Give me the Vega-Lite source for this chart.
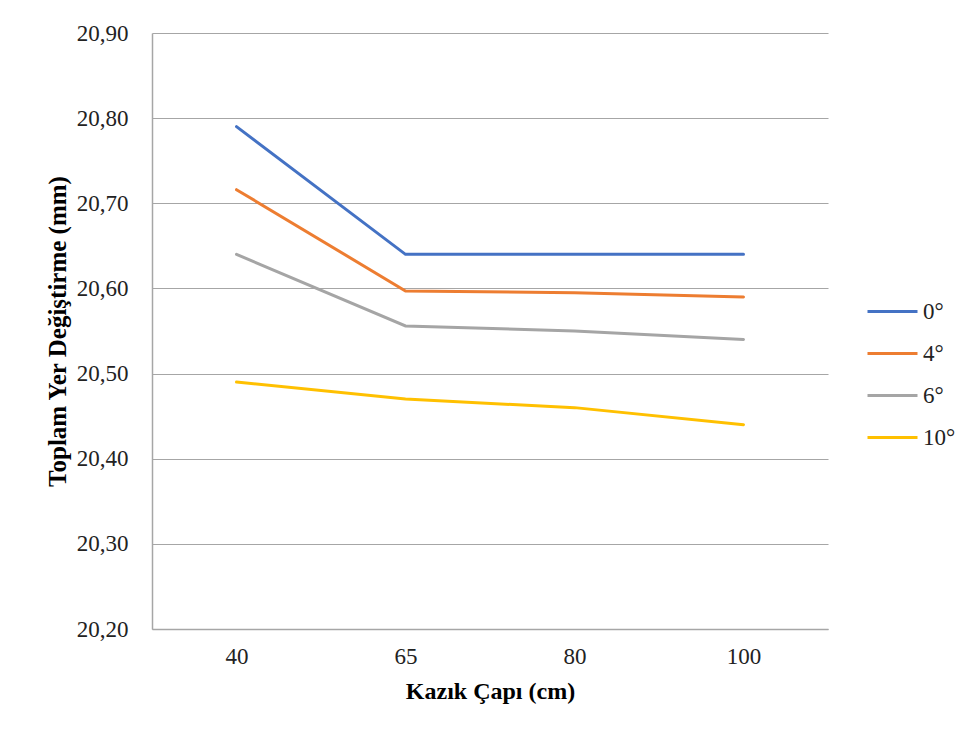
{
  "$schema": "https://vega.github.io/schema/vega-lite/v6.json",
  "width": 676,
  "height": 596,
  "autosize": {"type": "none"},
  "padding": {"left": 152, "top": 33, "right": 142, "bottom": 107},
  "background": "white",
  "config": {
    "font": "Liberation Serif, Times New Roman, DejaVu Serif, serif",
    "view": {"stroke": null}
  },
  "data": {
    "values": [
      {"cap": "40", "aci": "0°", "deger": 20.79},
      {"cap": "65", "aci": "0°", "deger": 20.64},
      {"cap": "80", "aci": "0°", "deger": 20.64},
      {"cap": "100", "aci": "0°", "deger": 20.64},
      {"cap": "40", "aci": "4°", "deger": 20.716},
      {"cap": "65", "aci": "4°", "deger": 20.597},
      {"cap": "80", "aci": "4°", "deger": 20.595},
      {"cap": "100", "aci": "4°", "deger": 20.59},
      {"cap": "40", "aci": "6°", "deger": 20.64},
      {"cap": "65", "aci": "6°", "deger": 20.556},
      {"cap": "80", "aci": "6°", "deger": 20.55},
      {"cap": "100", "aci": "6°", "deger": 20.54},
      {"cap": "40", "aci": "10°", "deger": 20.49},
      {"cap": "65", "aci": "10°", "deger": 20.47},
      {"cap": "80", "aci": "10°", "deger": 20.46},
      {"cap": "100", "aci": "10°", "deger": 20.44}
    ]
  },
  "mark": {"type": "line", "strokeWidth": 3, "strokeCap": "round", "strokeJoin": "miter"},
  "encoding": {
    "x": {
      "field": "cap",
      "type": "ordinal",
      "sort": ["40", "65", "80", "100"],
      "scale": {"type": "point", "padding": 0.5},
      "axis": {
        "title": "Kazık Çapı (cm)",
        "titleFont": "Liberation Serif, Times New Roman, serif",
        "titleFontSize": 24,
        "titleFontWeight": "bold",
        "titleColor": "#000000",
        "titlePadding": 11,
        "labelFont": "Liberation Serif, Times New Roman, serif",
        "labelFontSize": 23,
        "labelColor": "#222222",
        "labelAngle": 0,
        "labelPadding": 16,
        "ticks": false,
        "domainColor": "#A6A6A6",
        "domainWidth": 1.5,
        "grid": false
      }
    },
    "y": {
      "field": "deger",
      "type": "quantitative",
      "scale": {"domain": [20.2, 20.9], "zero": false, "nice": false},
      "axis": {
        "title": "Toplam  Yer Değiştirme  (mm)",
        "titleFont": "Liberation Serif, Times New Roman, serif",
        "titleFontSize": 25,
        "titleFontWeight": "bold",
        "titleColor": "#000000",
        "titlePadding": 6,
        "values": [20.2, 20.3, 20.4, 20.5, 20.6, 20.7, 20.8, 20.9],
        "labelExpr": "replace(format(datum.value, '.2f'), '.', ',')",
        "labelFont": "Liberation Serif, Times New Roman, serif",
        "labelFontSize": 23,
        "labelColor": "#222222",
        "labelPadding": 24,
        "ticks": false,
        "domainColor": "#A6A6A6",
        "domainWidth": 1.5,
        "grid": true,
        "gridColor": "#A6A6A6",
        "gridWidth": 1.2
      }
    },
    "color": {
      "field": "aci",
      "type": "nominal",
      "sort": ["0°", "4°", "6°", "10°"],
      "scale": {
        "domain": ["0°", "4°", "6°", "10°"],
        "range": ["#4472C4", "#ED7D31", "#A5A5A5", "#FFC000"]
      },
      "legend": {
        "title": null,
        "orient": "none",
        "legendX": 714,
        "legendY": 252,
        "symbolType": "stroke",
        "symbolSize": 2500,
        "symbolStrokeWidth": 3,
        "labelFont": "Liberation Serif, Times New Roman, serif",
        "labelFontSize": 23,
        "labelColor": "#222222",
        "labelOffset": 4,
        "rowPadding": 3
      }
    }
  }
}
